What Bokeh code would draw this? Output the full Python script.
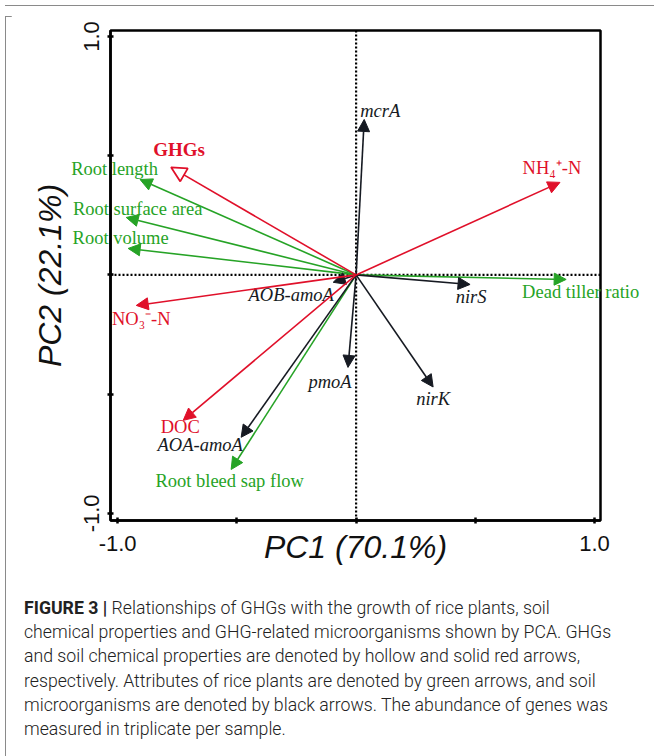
from bokeh.plotting import figure
from bokeh.models import (ColumnDataSource, Arrow, NormalHead, LabelSet, HTMLLabelSet, Span,
                          Range1d, FixedTicker, NumeralTickFormatter, Div)
from bokeh.layouts import column, row
from bokeh.core.properties import value
from bokeh.embed import file_html
from bokeh.resources import INLINE

# ---------------- data (PCA loadings) ----------------
ghg_names = ["GHGs"]
ghg_pc1 = [-0.776]
ghg_pc2 = [0.451]

soil_names = ["NH\u2084\u207a-N", "NO\u2083\u207b-N", "DOC"]
soil_pc1 = [0.855, -0.922, -0.725]
soil_pc2 = [0.388, -0.128, -0.610]

plant_names = ["Root length", "Root surface area", "Root volume",
               "Dead tiller ratio", "Root bleed sap flow"]
plant_pc1 = [-0.906, -0.964, -0.956, 0.881, -0.524]
plant_pc2 = [0.400, 0.241, 0.111, -0.019, -0.816]

gene_names = ["mcrA", "nirS", "nirK", "pmoA", "AOB-amoA", "AOA-amoA"]
gene_pc1 = [0.034, 0.478, 0.323, -0.034, -0.096, -0.482]
gene_pc2 = [0.652, -0.040, -0.470, -0.388, -0.031, -0.681]

x_title = "PC1 (70.1%)"
y_title = "PC2 (22.1%)"
tick_values = [-1.0, 1.0]
minor_tick_values = [-0.5, 0.0, 0.5]

caption_lines = [
    "Relationships of GHGs with the growth of rice plants, soil",
    "chemical properties and GHG-related microorganisms shown by PCA. GHGs",
    "and soil chemical properties are denoted by hollow and solid red arrows,",
    "respectively. Attributes of rice plants are denoted by green arrows, and soil",
    "microorganisms are denoted by black arrows. The abundance of genes was",
    "measured in triplicate per sample.",
]

# ---------------- label placement (pixel offsets from arrow tips) ----------------
label_offsets = {
    "GHGs": (8, 18),
    "Root length": (-25, 10),
    "Root surface area": (12, 8),
    "Root volume": (-7, 10),
    "mcrA": (16, 8),
    "NH\u2084\u207a-N": (-8, 14),
    "Dead tiller ratio": (15, -13),
    "nirS": (1, -13),
    "nirK": (0, -12),
    "pmoA": (-18, -15),
    "AOB-amoA": (-42, -13),
    "NO\u2083\u207b-N": (5, -14),
    "DOC": (-3, -7),
    "AOA-amoA": (-41, -8),
    "Root bleed sap flow": (-1, -12),
}

RED = "#E0102A"
GREEN = "#26A326"
BLACK = "#161A22"
BORDER = "#8a8a8a"
SERIF = "Liberation Serif"
SANS = "Liberation Sans"


def make_source(names, xs, ys):
    return ColumnDataSource(dict(
        name=names, x0=[0.0] * len(names), y0=[0.0] * len(names),
        x1=xs, y1=ys,
        dx=[label_offsets[n][0] for n in names],
        dy=[label_offsets[n][1] for n in names],
    ))


p = figure(width=648, height=559,
           x_range=Range1d(-1.03, 1.025), y_range=Range1d(-1.03, 1.025),
           output_backend="svg", toolbar_location=None,
           min_border_left=99, min_border_right=59,
           min_border_top=19, min_border_bottom=50)
p.xgrid.visible = False
p.ygrid.visible = False
p.outline_line_color = "black"
p.outline_line_width = 2.5
p.background_fill_color = "white"
p.border_fill_color = "white"

for ax in (p.xaxis[0], p.yaxis[0]):
    ax.ticker = FixedTicker(ticks=tick_values, minor_ticks=minor_tick_values)
    ax.formatter = NumeralTickFormatter(format="0.0")
    ax.axis_line_color = "black"
    ax.axis_line_width = 2.5
    ax.major_tick_in = 3
    ax.major_tick_out = 3
    ax.major_tick_line_width = 2.5
    ax.minor_tick_in = 3
    ax.minor_tick_out = 3
    ax.minor_tick_line_width = 2.5
    ax.minor_tick_line_color = "black"
    ax.major_label_text_font = SANS
    ax.major_label_text_font_size = "22px"
    ax.major_label_text_color = "#111111"
    ax.axis_label_text_font = SANS
    ax.axis_label_text_font_style = "italic"
    ax.axis_label_text_font_size = "32px"
    ax.axis_label_text_color = "#111111"

p.xaxis[0].axis_label = x_title
p.xaxis[0].major_label_standoff = 12
p.xaxis[0].axis_label_standoff = -25
p.yaxis[0].axis_label = y_title
p.yaxis[0].major_label_standoff = 8
p.yaxis[0].axis_label_standoff = 14
p.yaxis[0].major_label_orientation = "vertical"

# dotted zero lines
for dim in ("height", "width"):
    p.add_layout(Span(location=0, dimension=dim, line_color="black",
                      line_width=2.2, line_dash="2 2", level="underlay"))

groups = [
    (plant_names, plant_pc1, plant_pc2, GREEN, "normal", "solid"),
    (gene_names, gene_pc1, gene_pc2, BLACK, "italic", "solid"),
    (soil_names, soil_pc1, soil_pc2, RED, "normal", "solid"),
    (ghg_names, ghg_pc1, ghg_pc2, RED, "bold", "hollow"),
]

for names, xs, ys, color, style, head in groups:
    src = make_source(names, xs, ys)
    if head == "hollow":
        h = NormalHead(size=15, fill_color="white", line_color=color, line_width=1.8)
    else:
        h = NormalHead(size=12, fill_color=color, line_color=color, line_width=1)
    p.add_layout(Arrow(x_start="x0", y_start="y0", x_end="x1", y_end="y1",
                       source=src, end=h, line_color=color, line_width=1.6))
    LS = HTMLLabelSet if color == GREEN else LabelSet
    p.add_layout(LS(x="x1", y="y1", text="name", source=src,
                    x_offset="dx", y_offset="dy",
                    text_align="center", text_baseline="middle",
                    text_font=value(SERIF),
                    text_font_size="19px" if style == "bold" else "18.5px",
                    text_font_style=style, text_color=color))

caption_html = (
    '<div style="font-family:Roboto,sans-serif;font-size:17.7px;font-weight:300;'
    'line-height:24.2px;color:#222;padding:21px 0 0 8px;white-space:nowrap;">'
    '<b style="font-weight:700">FIGURE 3 |</b> ' + "<br>".join(caption_lines) + '</div>'
)
cap = Div(text=caption_html, width=648, height=188)

# thin grey frame of the figure panel (top and left edges)
top_edge = Div(text=f'<div style="width:649px;height:1px;background:{BORDER}"></div>',
               width=649, height=1, styles={"background-color": BORDER})
left_edge = Div(text=f'<div style="width:1px;height:747px;background:{BORDER}"></div>',
                width=1, height=747, styles={"background-color": BORDER})

layout = column(top_edge, row(left_edge, column(p, cap)))

open("out.html", "w").write(file_html(layout, INLINE))
